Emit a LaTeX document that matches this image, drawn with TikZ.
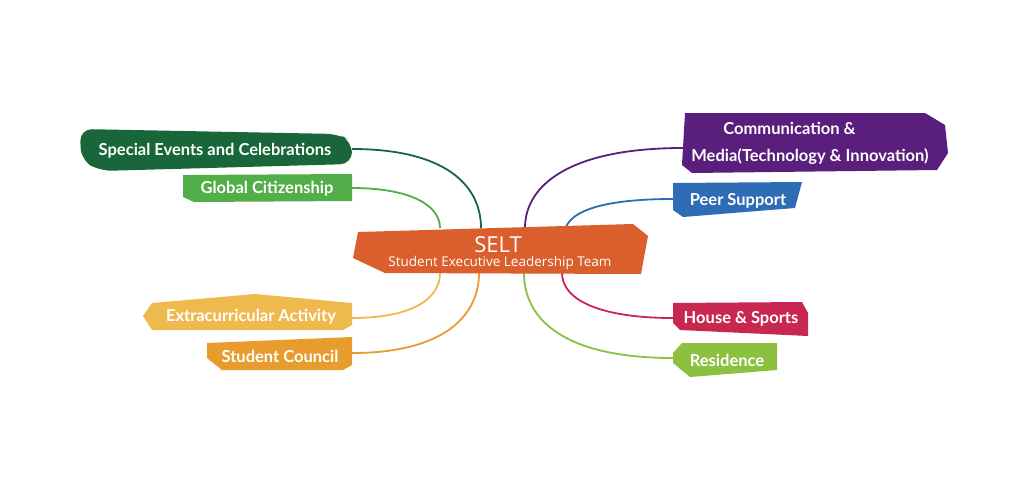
\documentclass[tikz,border=0pt]{standalone}
\usepackage{fontspec}
\setmainfont{Lato}
\newfontfamily\subfont{Open Sans}
\usepackage{tikz}
\definecolor{seltorange}{HTML}{DB5F2D}
\definecolor{evgreen}{HTML}{18663A}
\definecolor{glgreen}{HTML}{52AE48}
\definecolor{exyellow}{HTML}{EEBA4E}
\definecolor{scorange}{HTML}{E89C2E}
\definecolor{cmpurple}{HTML}{5A1E7D}
\definecolor{psblue}{HTML}{2E6DB5}
\definecolor{hsred}{HTML}{C82750}
\definecolor{rslime}{HTML}{8CC140}

\begin{document}
\begin{tikzpicture}[x=1pt,y=-1pt,
    lbl/.style={text=white,font=\bfseries\fontsize{16.5}{19}\selectfont},
    link/.style={line width=1.8pt}]
  \useasboundingbox[fill=white] (0,0) rectangle (1024,499);

  % Connection points
  \coordinate (evA) at (352,149);   \coordinate (evB) at (481,228);
  \coordinate (glA) at (352,188);   \coordinate (glB) at (440,228);
  \coordinate (exA) at (352,318);   \coordinate (exB) at (440,273);
  \coordinate (scA) at (352,353);   \coordinate (scB) at (479,273);
  \coordinate (cmA) at (683,148);   \coordinate (cmB) at (525,228);
  \coordinate (psA) at (673,199);   \coordinate (psB) at (566,227);
  \coordinate (hsA) at (673,318);   \coordinate (hsB) at (562,273);
  \coordinate (rsA) at (673,358);   \coordinate (rsB) at (524,273);

  % Connect the nodes
  \draw[link, evgreen] (evA) .. controls (445,149) and (481,185) .. (evB);
  \draw[link, glgreen] (glA) .. controls (410,188) and (440,205) .. (glB);
  \draw[link, exyellow] (exA) .. controls (410,318) and (440,300) .. (exB);
  \draw[link, scorange] (scA) .. controls (445,353) and (479,315) .. (scB);
  \draw[link, cmpurple] (cmA) .. controls (570,148) and (525,185) .. (cmB);
  \draw[link, psblue] (psA) .. controls (600,199) and (572,212) .. (psB);
  \draw[link, hsred] (hsA) .. controls (600,318) and (562,300) .. (hsB);
  \draw[link, rslime] (rsA) .. controls (565,358) and (524,320) .. (rsB);

  % Shapes
  \fill[seltorange] (358,232) -- (633,224) -- (648,236) -- (641,274) -- (385,273) -- (353,258) -- cycle;
  \fill[evgreen, rounded corners=12pt] (80,129) -- (338,134) -- (352,141) -- (352,164) -- (100,171) -- (81,160) -- cycle;
  \fill[glgreen] (183,175) -- (352,174) -- (352,201) -- (194,202) -- (183,197) -- cycle;
  \fill[exyellow] (143,316) -- (152,303) -- (255,294) -- (352,303) -- (352,325) -- (343,330) -- (152,330) -- cycle;
  \fill[scorange] (207,343) -- (352,337) -- (352,365) -- (343,370) -- (222,370) -- (207,358) -- cycle;
  \fill[cmpurple] (685,113) -- (925,113) -- (945,125) -- (948,153) -- (937,170) -- (692,173) -- (682,165) -- cycle;
  \fill[psblue] (673,183) -- (802,182) -- (795,208) -- (683,217) -- (673,210) -- cycle;
  \fill[hsred] (673,303) -- (802,302) -- (808,313) -- (808,336) -- (680,330) -- (673,323) -- cycle;
  \fill[rslime] (682,343) -- (777,343) -- (777,370) -- (690,377) -- (673,363) -- (673,353) -- cycle;

  % Define nodes
  \node[text=white, font=\subfont\fontsize{22}{25}\selectfont] (selt) at (498,245) {SELT};
  \node[text=white, font=\subfont\fontsize{13.5}{16}\selectfont] (seltsub) at (500,263) {Student Executive Leadership Team};
  \node[lbl] (events) at (215,151) {Special Events and Celebrations};
  \node[lbl] (global) at (267,189) {Global Citizenship};
  \node[lbl] (extra) at (251,317) {Extracurricular Activity};
  \node[lbl] (council) at (280,356) {Student Council};
  \node[lbl, align=left, font=\bfseries\fontsize{16.5}{27}\selectfont] (comm) at (810,143)
    {\hspace*{32pt}Communication \&\\Media(Technology \& Innovation)};
  \node[lbl] (peer) at (738,201) {Peer Support};
  \node[lbl] (house) at (741,319) {House \& Sports};
  \node[lbl] (res) at (727,360) {Residence};
\end{tikzpicture}
\end{document}
